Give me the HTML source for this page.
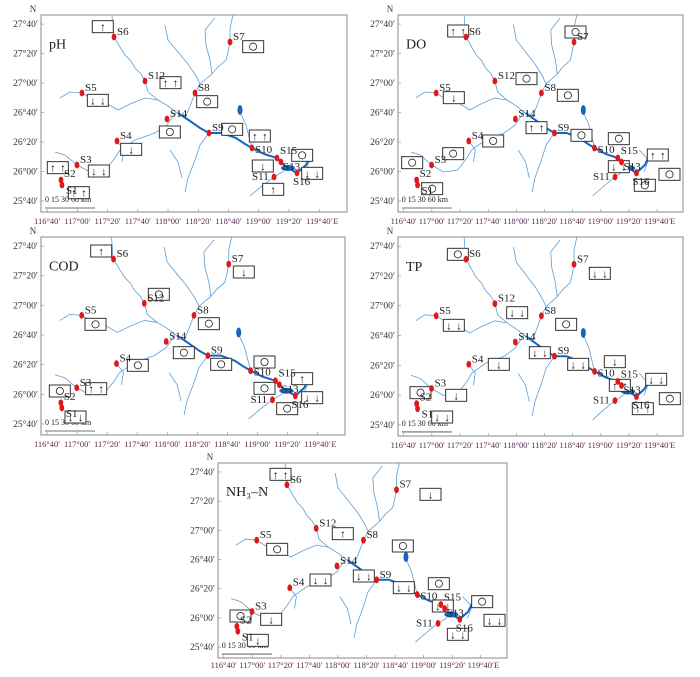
<!DOCTYPE html>
<html><head><meta charset="utf-8"><style>
html,body{margin:0;padding:0;background:#fff;width:700px;height:677px;overflow:hidden}
svg text{font-family:"Liberation Serif",serif}
</style></head><body>
<svg id="s" width="700" height="677" viewBox="0 0 700 677" xmlns="http://www.w3.org/2000/svg"></svg>
<script>
const NS="http://www.w3.org/2000/svg",S=document.getElementById('s');
function el(t,a,txt){const e=document.createElementNS(NS,t);for(const k in a)e.setAttribute(k,a[k]);if(txt!=null)e.textContent=txt;S.appendChild(e);return e;}
const sites={S6:[114,37],S7:[230,42],S12:[145,81],S5:[82,93],S8:[195,93],S14:[167,119],S9:[209,133],S4:[117,141],S10:[252,148],S15:[277,158],S13:[281,162],S16:[297,173],S3:[77,165],S11:[274,177],S2:[61,180],S1:[62,185]};
const lab={S1:[4,9],S2:[3,-3],S13:[2,8],S16:[-4,12],S11:[-22,3],S10:[3,5],S15:[3,-4]};
const rivers=[
[[112,15],[113,30],[114,37],[120,47],[125,55],[131,61],[135,68],[141,74],[145,81],[148,92],[158,100],[168,106],[176,112],[185,118]],
[[233,15],[230,28],[230,42],[228,52],[226,60],[218,67],[212,74],[200,84],[195,93],[190,106],[185,118]],
[[165,25],[168,40],[178,52],[188,64],[196,76],[200,84]],
[[215,18],[205,30],[206,45],[210,60],[212,74]],
[[60,98],[70,92],[82,93],[92,99],[104,102],[118,110],[130,104],[145,98],[158,100]],
[[55,152],[65,155],[77,165],[90,172],[105,170],[115,158],[120,150],[135,140],[155,133],[167,125],[176,112]],
[[117,141],[124,150],[122,162]],
[[209,133],[200,145],[195,160],[188,178],[185,192]],
[[250,196],[262,186],[274,177],[284,171]],
[[240,112],[246,125],[252,148]],
[[300,150],[310,160],[305,172]],
[[170,150],[178,162],[182,178]]
];
const trunk=[[178,113],[190,121],[200,128],[209,133],[222,133],[236,138],[245,144],[252,148],[264,154],[277,158],[285,166],[297,173],[306,165],[310,157]];
function drawPanel(P){
  const fr=P.fr;
  const M=p=>[fr.x+(p[0]-41)/306*fr.w, fr.y+(p[1]-15)/197*fr.h];
  el('rect',{x:fr.x,y:fr.y,width:fr.w,height:fr.h,fill:'#fff',stroke:'#888','stroke-width':1});
  const lats=["27°40′","27°20′","27°00′","26°40′","26°20′","26°00′","25°40′"];
  lats.forEach((t,i)=>{const y=fr.y+fr.h*(0.046+i*0.1497);
    el('text',{x:fr.x-3,y:y+3,'font-size':9.5,'text-anchor':'end',fill:'#333'},t);
    el('line',{x1:fr.x,x2:fr.x+3,y1:y,y2:y,stroke:'#888','stroke-width':0.6});});
  el('text',{x:fr.x-8,y:fr.y-3,'font-size':9,'text-anchor':'middle',fill:'#333'},"N");
  const lons=["116°40′","117°00′","117°20′","117°40′","118°00′","118°20′","118°40′","119°00′","119°20′","119°40′"];
  lons.forEach((t,i)=>{const x=fr.x+fr.w*(0.02+i*0.0988);
    el('text',{x:x,y:fr.y+fr.h+P.ly,'font-size':8.5,'text-anchor':'middle',fill:'#5a2850'},t);
    el('line',{x1:x,x2:x,y1:fr.y+fr.h,y2:fr.y+fr.h-3,stroke:'#888','stroke-width':0.6});});
  el('text',{x:fr.x+fr.w*0.955,y:fr.y+fr.h+P.ly,'font-size':8.5,fill:'#5a2850'},"E");
  rivers.forEach(r=>{el('polyline',{points:r.map(M).map(p=>p.join(',')).join(' '),fill:'none',stroke:'#5b9fd8','stroke-width':0.8});});
  el('polyline',{points:trunk.map(M).map(p=>p.join(',')).join(' '),fill:'none',stroke:'#1565c0','stroke-width':2});
  let lk=M([240,110]);el('ellipse',{cx:lk[0],cy:lk[1],rx:2.5,ry:5,fill:'#1565c0'});
  lk=M([288,168]);el('ellipse',{cx:lk[0],cy:lk[1],rx:7,ry:3,fill:'#1565c0'});
  el('text',{x:fr.x+8,y:fr.y+fr.h*0.17,'font-size':14,fill:'#222'},P.t);
  const sb=M([45,208]);
  el('text',{x:sb[0],y:sb[1]-6,'font-size':8,fill:'#222'},"0  15  30        60 km");
  el('line',{x1:sb[0],x2:sb[0]+50,y1:sb[1],y2:sb[1],stroke:'#444','stroke-width':0.8});
  P.b.forEach(b=>{const x=P.o[0]+b[0]/3,y=P.o[1]+b[1]/3,w=21,h=12;
    el('rect',{x:x,y:y,width:w,height:h,fill:'#fff',stroke:'#333','stroke-width':1});
    const s=b[2];
    if(s==='○')el('circle',{cx:x+w/2,cy:y+h/2,r:3.6,fill:'none',stroke:'#222','stroke-width':0.8});
    else{const n=s.length,xs=n==1?[x+w/2]:[x+w/2-5,x+w/2+5];
      xs.forEach(cx=>el('text',{x:cx,y:y+h/2+4,'font-size':11,'text-anchor':'middle',fill:'#111','font-family':'DejaVu Sans'},s[0]));}
  });
  for(const k in sites){const p=M(sites[k]);
    el('ellipse',{cx:p[0],cy:p[1],rx:2.4,ry:3.4,fill:'#e01818'});
    const o=lab[k]||[3,-2];
    el('text',{x:p[0]+o[0],y:p[1]+o[1],'font-size':11,fill:'#222'},k);}
}
const B={
pH:[[277,62,"↑"],[728,122,"○"],[480,230,"↑↑"],[262,283,"↓↓"],[590,287,"○"],[478,378,"○"],[665,370,"○"],[362,430,"↓"],[748,390,"↑↑"],[875,448,"○"],[757,480,"↓"],[905,502,"↓↓"],[788,550,"↑"],[265,495,"↓↓"],[142,485,"↑↑"],[205,560,"↑↑"]],
DO:[[263,75,"↑↑"],[615,78,"○"],[468,218,"○"],[250,275,"↓"],[592,268,"○"],[498,365,"↑↑"],[633,388,"○"],[368,405,"○"],[248,443,"○"],[125,470,"○"],[745,398,"○"],[862,447,"↑↑"],[745,482,"↓↓"],[897,505,"○"],[823,538,"○"],[185,548,"○"]],
COD:[[272,45,"↑"],[700,108,"↓"],[445,175,"○"],[255,265,"○"],[595,263,"○"],[520,350,"○"],[632,385,"○"],[382,388,"○"],[148,465,"○"],[257,458,"↑↑"],[762,378,"○"],[762,457,"○"],[875,428,"↑"],[905,485,"↓↓"],[830,518,"○"],[195,543,"↓↓"]],
TP:[[262,55,"○"],[688,112,"↓↓"],[440,230,"↓↓"],[250,268,"↓↓"],[587,265,"○"],[508,350,"↓↓"],[623,385,"↓↓"],[385,385,"↓"],[150,470,"○"],[257,478,"↓"],[733,377,"↓"],[748,448,"↑↑"],[857,430,"↓↓"],[898,488,"○"],[817,518,"↑↑"],[215,543,"↓↓"]],
NH:[[300,40,"↑↑"],[750,100,"↓"],[487,218,"↑"],[290,265,"○"],[667,255,"○"],[420,357,"↓↓"],[550,345,"↓↓"],[670,380,"↓↓"],[775,368,"○"],[180,465,"○"],[272,475,"↓"],[787,435,"↓↓"],[905,422,"○"],[942,478,"↓↓"],[232,538,"↓"],[832,520,"↓↓"]]
};
drawPanel({t:"pH",fr:{x:41,y:15,w:306,h:197},o:[0,0],b:B.pH,ly:12});
drawPanel({t:"DO",fr:{x:398,y:15,w:285,h:197},o:[360,0],b:B.DO,ly:12});
drawPanel({t:"COD",fr:{x:41,y:237,w:304,h:198},o:[0,230],b:B.COD,ly:12});
drawPanel({t:"TP",fr:{x:398,y:237,w:285,h:199},o:[360,230],b:B.TP,ly:12});
drawPanel({t:"NH₃–N",fr:{x:218,y:463,w:289,h:195},o:[170,455],b:B.NH,ly:10});
</script>
</body></html>
